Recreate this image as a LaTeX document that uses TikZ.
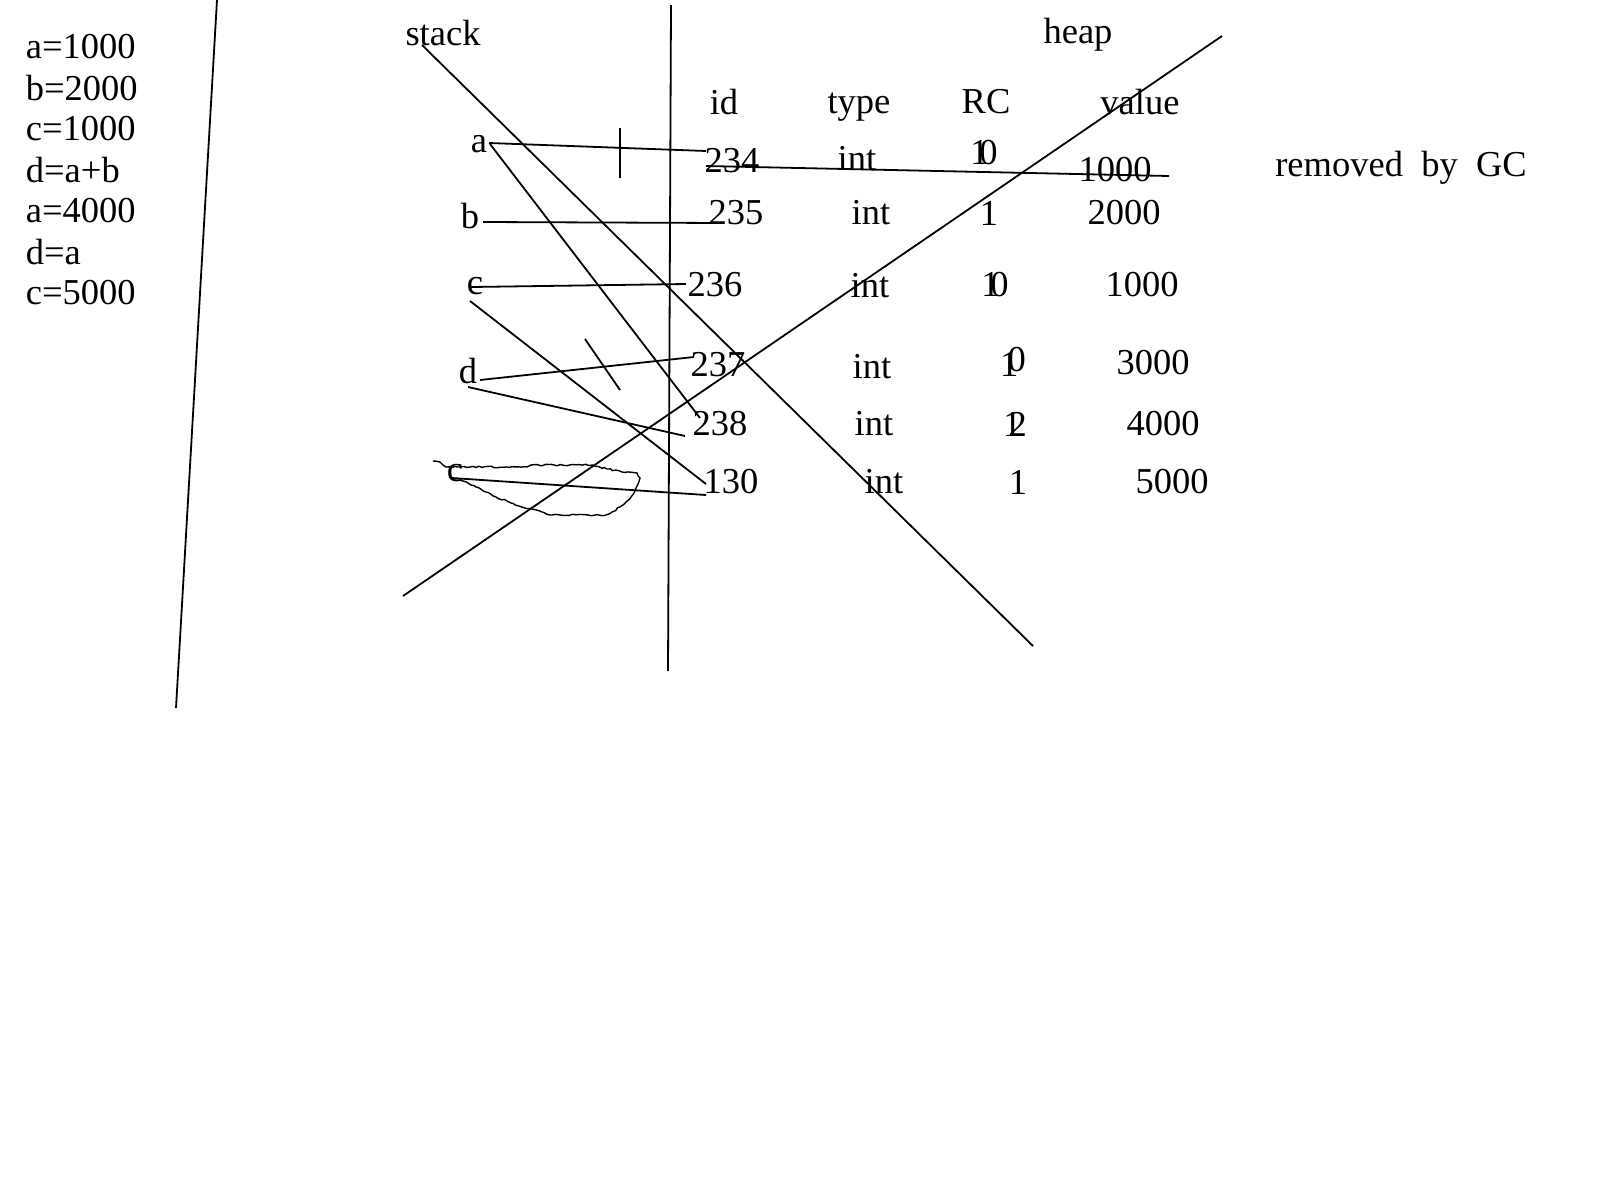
\documentclass[tikz,border=0pt]{standalone}
\usepackage{fontspec}
\setmainfont{Liberation Serif}
\usetikzlibrary{decorations.pathmorphing}

\begin{document}
\begin{tikzpicture}[x=1pt, y=-1pt, line width=1.8pt,
  lbl/.style={inner sep=0pt, font=\fontsize{36.5}{40}\selectfont},
  over/.style={lbl}]
\useasboundingbox (0,0) rectangle (1600,1200);

% Program
\foreach \s [count=\i] in {a=1000, b=2000, c=1000, d=a+b, a=4000, d=a, c=5000}
  \node[lbl, anchor=west] (prog\i) at (25, {47+41*(\i-1)}) {\s};

% Column headers
\node[lbl] (stack) at (443,33) {stack};
\node[lbl] (heap) at (1078,35) {heap};
\node[lbl] (hid) at (724,102) {id};
\node[lbl] (htype) at (859,107) {type};
\node[lbl] (hrc) at (986,102) {RC};
\node[lbl] (hval) at (1140,102) {value};

% Stack variables
\node[lbl] (va) at (479,144) {a};
\node[lbl] (vb) at (470,216) {b};
\node[lbl] (vc) at (475,286) {c};
\node[lbl] (vd) at (468,371) {d};
\node[lbl] (vc2) at (455,473) {c};

% Heap rows
\node[lbl] (id234) at (732,161) {234};
\node[lbl] (ty234) at (857,159) {int};
\node[over] (rc234) at (984,153) {1\kern-.25em0};
\node[lbl] (val234) at (1115,170) {1000};
\node[lbl] (gc) at (1401,168) {removed\ \ by\ \ GC};

\node[lbl] (id235) at (736,213) {235};
\node[lbl] (ty235) at (871,213) {int};
\node[lbl] (rc235) at (989,213) {1};
\node[lbl] (val235) at (1124,213) {2000};

\node[lbl] (id236) at (715,285) {236};
\node[lbl] (ty236) at (870,286) {int};
\node[over] (rc236) at (995,285) {1\kern-.25em0};
\node[lbl] (val236) at (1142,285) {1000};

\node[lbl] (id237) at (718,365) {237};
\node[lbl] (ty237) at (872,367) {int};
\node[over] (rc237) at (1013,362) {1\kern-.3em\raisebox{.15em}{0}};
\node[lbl] (val237) at (1153,363) {3000};

\node[lbl] (id238) at (720,424) {238};
\node[lbl] (ty238) at (874,424) {int};
\node[over] (rc238) at (1015,424) {1\kern-.35em2};
\node[lbl] (val238) at (1163,424) {4000};

\node[lbl] (id130) at (731,482) {130};
\node[lbl] (ty130) at (884,482) {int};
\node[lbl] (rc130) at (1018,482) {1};
\node[lbl] (val130) at (1172,482) {5000};

% Dividers
\coordinate (divtop) at (217,0);
\coordinate (divbot) at (176,708);
\coordinate (midtop) at (671,5);
\coordinate (midbot) at (668,671);
\draw (divtop) -- (divbot);
\draw (midtop) -- (midbot);

% Crossing out
\coordinate (xa1) at (422,45);
\coordinate (xa2) at (1033,646);
\coordinate (xb1) at (403,596);
\coordinate (xb2) at (1222,36);
\draw (xa1) -- (xa2);
\draw (xb1) -- (xb2);

% References
\coordinate (a-out) at (489,143);
\coordinate (a-in) at (706,151);
\coordinate (a-out2) at (490,144);
\coordinate (a-in2) at (700,418);
\coordinate (b-out) at (483,222);
\coordinate (b-in) at (724,223);
\coordinate (c-out) at (471,287);
\coordinate (c-in) at (686,284);
\coordinate (c-out2) at (470,301);
\coordinate (c-in2) at (706,484);
\coordinate (d-out) at (480,380);
\coordinate (d-in) at (694,357);
\coordinate (d-out2) at (468,387);
\coordinate (d-in2) at (685,436);
\coordinate (c2-out) at (452,478);
\coordinate (c2-in) at (706,495);
\draw (a-out) -- (a-in);
\draw (a-out2) -- (a-in2);
\draw (b-out) -- (b-in);
\draw (c-out) -- (c-in);
\draw (c-out2) -- (c-in2);
\draw (d-out) -- (d-in);
\draw (d-out2) -- (d-in2);
\draw (c2-out) -- (c2-in);

% Cuts
\coordinate (cut1a) at (620,128);
\coordinate (cut1b) at (620,178);
\coordinate (cut2a) at (585,339);
\coordinate (cut2b) at (620,390);
\coordinate (strike1) at (706,166);
\coordinate (strike2) at (1169,176);
\draw (cut1a) -- (cut1b);
\draw (cut2a) -- (cut2b);
\draw (strike1) -- (strike2);

% Scribble
\draw[line width=1.4pt, decorate, decoration={random steps, segment length=3pt, amplitude=0.8pt}]
  (433,461) -- (440,462) -- (443,465) -- (446,467) -- (527,467) -- (531,465) -- (593,465)
  -- (607,469) -- (622,472) -- (637,473) -- (640,478) -- (638,484) -- (635,491)
  -- (631,497) -- (626,502) -- (620,507) -- (612,512) -- (606,515) -- (550,515)
  -- (542,512) -- (532,509) -- (519,506) -- (507,501) -- (496,497) -- (486,492)
  -- (476,487) -- (468,483) -- (459,480);
\end{tikzpicture}
\end{document}
